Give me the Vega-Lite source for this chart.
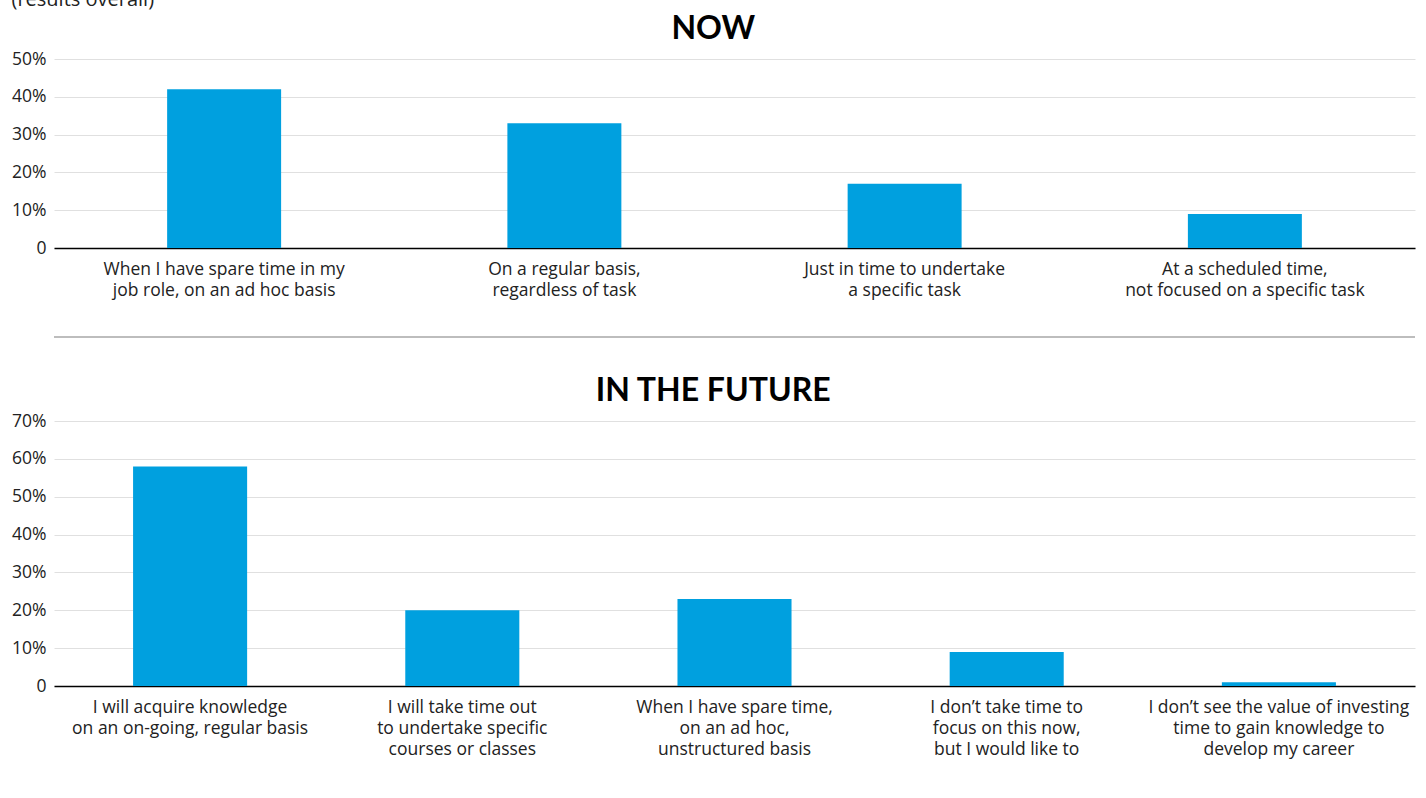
{
  "$schema": "https://vega.github.io/schema/vega-lite/v6.json",
  "padding": {"left": 11, "right": 9, "top": -10, "bottom": 5},
  "background": "white",
  "title": {"text": "(results overall)", "anchor": "start", "frame": "bounds", "fontSize": 20, "fontWeight": "normal", "font": "Open Sans", "color": "#222222", "offset": 3},
  "datasets": {
    "now": [
      {"label": "When I have spare time in my\njob role, on an ad hoc basis", "pct": 0.42},
      {"label": "On a regular basis,\nregardless of task", "pct": 0.33},
      {"label": "Just in time to undertake\na specific task", "pct": 0.17},
      {"label": "At a scheduled time,\nnot focused on a specific task", "pct": 0.09}
    ],
    "future": [
      {"label": "I will acquire knowledge\non an on-going, regular basis", "pct": 0.58},
      {"label": "I will take time out\nto undertake specific\ncourses or classes", "pct": 0.20},
      {"label": "When I have spare time,\non an ad hoc,\nunstructured basis", "pct": 0.23},
      {"label": "I don’t take time to\nfocus on this now,\nbut I would like to", "pct": 0.09},
      {"label": "I don’t see the value of investing\ntime to gain knowledge to\ndevelop my career", "pct": 0.01}
    ]
  },
  "spacing": 37,
  "vconcat": [
    {
      "data": {"name": "now"},
      "width": 1361,
      "height": 189,
      "title": {"text": "NOW", "fontSize": 32, "fontWeight": "bold", "font": "Lato", "color": "#000000", "offset": 4, "frame": "bounds"},
      "mark": {"type": "bar", "color": "#00A0DF"},
      "encoding": {
        "x": {"field": "label", "type": "nominal", "sort": null,
          "scale": {"paddingInner": 0.665, "paddingOuter": 0.3325},
          "axis": {"title": null, "labelAngle": 0, "labelExpr": "split(datum.value, '\\n')"}},
        "y": {"field": "pct", "type": "quantitative", "scale": {"domain": [0, 0.5]},
          "axis": {"title": null, "tickCount": 5, "labelExpr": "datum.value == 0 ? '0' : format(datum.value, '.0%')"}}
      }
    },
    {
      "data": {"values": [{"v": 0}]},
      "width": 1361,
      "height": 1,
      "mark": {"type": "rule", "color": "#bdbdbd", "strokeWidth": 2},
      "encoding": {"y": {"field": "v", "type": "quantitative", "scale": {"domain": [0, 1]}, "axis": null}}
    },
    {
      "data": {"name": "future"},
      "width": 1361,
      "height": 265,
      "title": {"text": "IN THE FUTURE", "fontSize": 32, "fontWeight": "bold", "font": "Lato", "color": "#000000", "offset": 4, "frame": "bounds"},
      "mark": {"type": "bar", "color": "#00A0DF"},
      "encoding": {
        "x": {"field": "label", "type": "nominal", "sort": null,
          "scale": {"paddingInner": 0.581, "paddingOuter": 0.2905},
          "axis": {"title": null, "labelAngle": 0, "labelExpr": "split(datum.value, '\\n')"}},
        "y": {"field": "pct", "type": "quantitative", "scale": {"domain": [0, 0.7]},
          "axis": {"title": null, "tickCount": 7, "labelExpr": "datum.value == 0 ? '0' : format(datum.value, '.0%')"}}
      }
    }
  ],
  "config": {
    "view": {"stroke": null},
    "axis": {"labelFont": "Open Sans", "labelFontSize": 17.5, "labelColor": "#222222", "ticks": false, "gridColor": "#e0e0e0", "gridWidth": 1, "labelLimit": 0},
    "axisX": {"domainColor": "#000000", "domainWidth": 1.5, "labelPadding": 12, "labelLineHeight": 21, "labelBaseline": "top", "grid": false},
    "axisY": {"domain": false, "labelPadding": 8}
  }
}
